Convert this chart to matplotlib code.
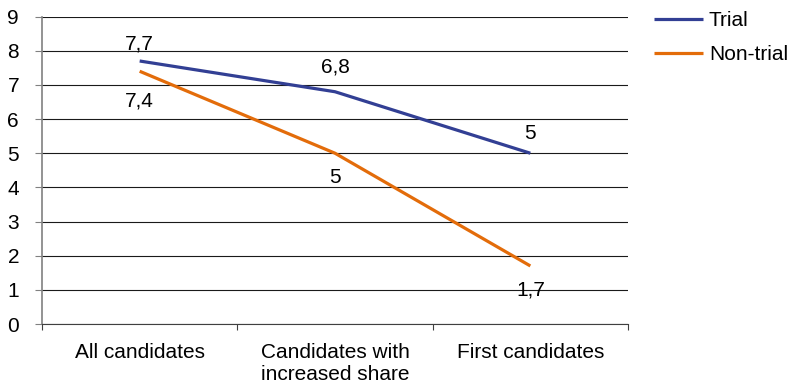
import matplotlib
matplotlib.use("Agg")
import matplotlib.pyplot as plt
from matplotlib.ticker import FixedLocator

plt.rcParams['font.family'] = ['Liberation Sans', 'DejaVu Sans']

categories = ["All candidates", "Candidates with\nincreased share", "First candidates"]
trial = [7.7, 6.8, 5.0]
non_trial = [7.4, 5.0, 1.7]
trial_labels = ["7,7", "6,8", "5"]
non_trial_labels = ["7,4", "5", "1,7"]
y_ticks = list(range(0, 10))

# vertical offsets (points) from each point to the baseline of its label
trial_offsets = [8.5, 13.5, 10.0]
non_trial_offsets = [-25.5, -21.5, -21.0]

blue = "#323F94"
orange = "#E36C0A"

fig = plt.figure(figsize=(7.9, 3.88), dpi=100)
ax = fig.add_axes([42 / 790, 1 - 324 / 388, (628 - 42) / 790, (324 - 16.6) / 388])

x = list(range(len(categories)))
ax.plot(x, trial, color=blue, lw=2.3, solid_capstyle='butt', label="Trial", zorder=3)
ax.plot(x, non_trial, color=orange, lw=2.3, solid_capstyle='butt', label="Non-trial", zorder=3)

fs = 15
for xi, v, s, off in zip(x, trial, trial_labels, trial_offsets):
    ax.annotate(s, (xi, v), xytext=(0, off), textcoords="offset points",
                ha="center", va="baseline", fontsize=fs, zorder=4)
for xi, v, s, off in zip(x, non_trial, non_trial_labels, non_trial_offsets):
    ax.annotate(s, (xi, v), xytext=(0, off), textcoords="offset points",
                ha="center", va="baseline", fontsize=fs, zorder=4)

ax.set_xlim(-0.5, len(categories) - 0.5)
ax.set_ylim(0, 9)
ax.set_yticks(y_ticks)
ax.set_yticklabels([str(t) for t in y_ticks], fontsize=fs)
ax.yaxis.grid(True, color="#1a1a1a", lw=0.8)
ax.set_axisbelow(True)

ax.set_xticks(x)
ax.set_xticklabels(categories, fontsize=fs, linespacing=1.2)
ax.tick_params(axis='x', which='major', length=0, pad=13.5)
ax.xaxis.set_minor_locator(FixedLocator([i - 0.5 for i in range(len(categories) + 1)]))
ax.tick_params(axis='x', which='minor', length=4, color="#404040", width=0.8)
ax.tick_params(axis='y', length=5, color="#808080", width=0.8, pad=11.5)

for side in ("top", "right"):
    ax.spines[side].set_visible(False)
ax.spines["left"].set_color("#808080")
ax.spines["left"].set_linewidth(1.2)
ax.spines["bottom"].set_color("#404040")
ax.spines["bottom"].set_linewidth(0.8)

leg = fig.legend(loc="upper left", bbox_to_anchor=(645.5 / 790, 1 - 3 / 388),
                 frameon=False, fontsize=fs, handlelength=2.35, handletextpad=0.29,
                 labelspacing=0.7, borderaxespad=0)

fig.savefig("out.png", dpi=100)
